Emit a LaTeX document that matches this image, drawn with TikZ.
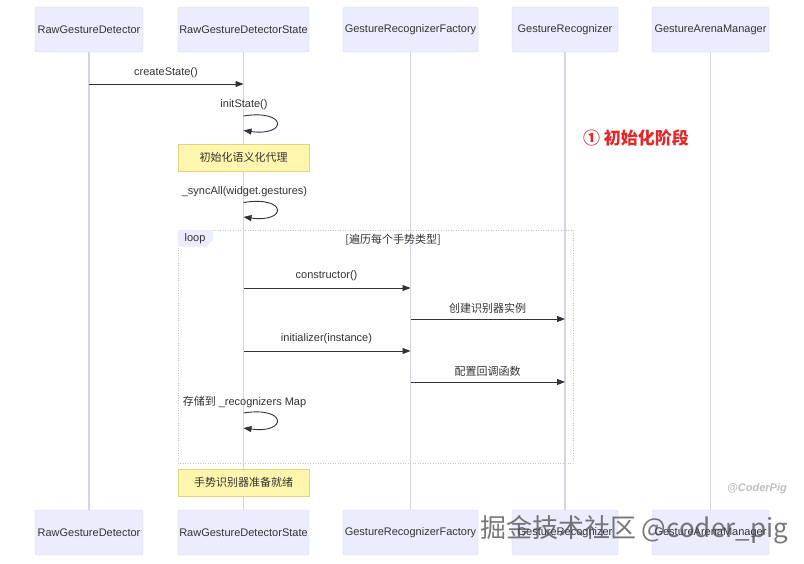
\documentclass[tikz,border=0pt]{standalone}
\usepackage{fontspec}
\setmainfont{Liberation Sans}
\newfontfamily\cjk{Noto Sans CJK SC}
\usetikzlibrary{arrows.meta,calc}
\pgfdeclarelayer{bg}
\pgfsetlayers{bg,main}
\definecolor{actfill}{HTML}{ECECFF}
\definecolor{actdraw}{HTML}{DADAF0}
\definecolor{lifec}{HTML}{D4D4E6}
\definecolor{notefill}{HTML}{FFF5AD}
\definecolor{notedraw}{HTML}{E2D286}
\definecolor{msgc}{HTML}{333333}
\definecolor{redtxt}{HTML}{E3262A}
\definecolor{loopc}{HTML}{C4C4C4}
\tikzset{
  actor/.style={draw=actdraw, fill=actfill, rounded corners=1.5pt, minimum height=45pt, inner sep=0pt, font=\fontsize{11}{13}\selectfont, text=msgc},
  life/.style={draw=lifec, line width=1.2pt},
  msg/.style={draw=msgc, line width=0.9pt, -{Triangle[length=8pt,width=6pt]}},
  lbl/.style={font=\fontsize{11}{13}\selectfont, text=msgc, inner sep=0pt},
  cjklbl/.style={font=\cjk\fontsize{11}{13}\selectfont, text=msgc, inner sep=0pt},
  notebox/.style={draw=notedraw, fill=notefill, minimum width=131pt, minimum height=27pt, inner sep=0pt, font=\cjk\fontsize{11}{13}\selectfont, text=msgc},
  loopframe/.style={draw=loopc, line width=0.8pt, dash pattern=on 1pt off 1.5pt},
}
\begin{document}
\begin{tikzpicture}[x=1pt,y=-1pt]
\begin{pgfonlayer}{bg}
\useasboundingbox[fill=white] (0,0) rectangle (804,563);
\end{pgfonlayer}
% top participants
\node[actor, minimum width=108pt] (t1) at (89,29.5) {RawGestureDetector};
\node[actor, minimum width=131pt] (t2) at (243.5,29.5) {RawGestureDetectorState};
\node[actor, minimum width=135pt] (t3) at (410.5,29.5) {GestureRecognizerFactory};
\node[actor, minimum width=106pt] (t4) at (565,29.5) {GestureRecognizer};
\node[actor, minimum width=117pt] (t5) at (710.5,29.5) {GestureArenaManager};
% bottom participants
\node[actor, minimum width=108pt] (b1) at (89,532.5) {RawGestureDetector};
\node[actor, minimum width=131pt] (b2) at (243.5,532.5) {RawGestureDetectorState};
\node[actor, minimum width=135pt] (b3) at (410.5,532.5) {GestureRecognizerFactory};
\node[actor, minimum width=106pt] (b4) at (565,532.5) {GestureRecognizer};
\node[actor, minimum width=117pt] (b5) at (710.5,532.5) {GestureArenaManager};
% lifelines (behind notes)
\begin{pgfonlayer}{bg}
\draw[life] (t1.south) -- (b1.north);
\draw[life] (t2.south) -- (b2.north);
\draw[life] (t3.south) -- (b3.north);
\draw[life] (t4.south) -- (b4.north);
\draw[life] (t5.south) -- (b5.north);
\end{pgfonlayer}
% loop frame
\draw[loopframe] (178,230) rectangle (573,463);
\fill[actfill] (178,230) -- (213,230) -- (213,240) -- (207,246.5) -- (178,246.5) -- cycle;
\node[lbl] (looplbl) at (195,238.5) {loop};
\node[cjklbl] (loopcond) at (393,239.5) {[遍历每个手势类型]};
% messages
\coordinate (c1a) at (t1 |- 0,84);
\coordinate (c1b) at (t2 |- 0,84);
\node[lbl] (m1) at (166,73) {createState()};
\draw[msg] (c1a) -- (c1b);

\node[lbl] (m2) at (244,105) {initState()};
\coordinate (c2a) at (t2 |- 0,116);
\coordinate (c2b) at (t2 |- 0,130.5);
\draw[msg] (c2a) .. controls +(44,-7) and +(44,6) .. (c2b);

\node[notebox] (n1) at (243.5,157.5) {初始化语义化代理};

\node[lbl] (m3) at (244.5,192) {\_syncAll(widget.gestures)};
\coordinate (c3a) at (t2 |- 0,202.5);
\coordinate (c3b) at (t2 |- 0,217);
\draw[msg] (c3a) .. controls +(44,-7) and +(44,6) .. (c3b);

\coordinate (c4a) at (t2 |- 0,288);
\coordinate (c4b) at (t3 |- 0,288);
\node[lbl] (m4) at (326.5,276) {constructor()};
\draw[msg] (c4a) -- (c4b);

\coordinate (c5a) at (t3 |- 0,319);
\coordinate (c5b) at (t4 |- 0,319);
\node[cjklbl] (m5) at (487.5,308.5) {创建识别器实例};
\draw[msg] (c5a) -- (c5b);

\coordinate (c6a) at (t2 |- 0,351);
\coordinate (c6b) at (t3 |- 0,351);
\node[lbl] (m6) at (326.5,339) {initializer(instance)};
\draw[msg] (c6a) -- (c6b);

\coordinate (c7a) at (t3 |- 0,382);
\coordinate (c7b) at (t4 |- 0,382);
\node[cjklbl] (m7) at (487.5,371.5) {配置回调函数};
\draw[msg] (c7a) -- (c7b);

\node[lbl] (m8) at (244.5,402) {{\cjk 存储到} \_recognizers Map};
\coordinate (c8a) at (t2 |- 0,413);
\coordinate (c8b) at (t2 |- 0,428);
\draw[msg] (c8a) .. controls +(44,-7) and +(44,6) .. (c8b);

\node[notebox] (n2) at (243.5,482.5) {手势识别器准备就绪};

% phase label
\node[font=\cjk\bfseries\fontsize{17}{19}\selectfont, text=redtxt, inner sep=0pt] (phase) at (636,138) {① 初始化阶段};
% watermarks
\node[font=\itshape\bfseries\fontsize{11}{13}\selectfont, text=black!25, inner sep=0pt] (wm1) at (757,489) {@CoderPig};
\node[font=\cjk\fontsize{26}{28}\selectfont, text=black!70, opacity=0.75, inner sep=0pt] (wm2) at (634,530) {掘金技术社区 @coder\_pig};
\end{tikzpicture}
\end{document}
